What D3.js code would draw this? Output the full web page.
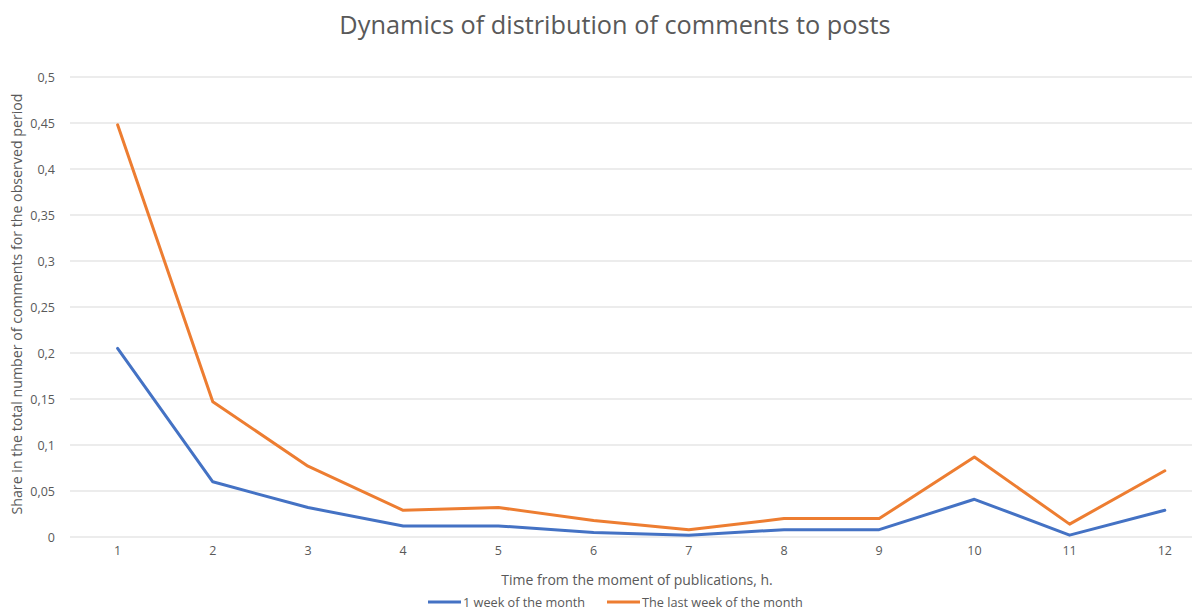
<!DOCTYPE html>
<html>
<head>
<meta charset="utf-8">
<script src="https://cdn.jsdelivr.net/npm/d3@7"></script>
<style>
  body { margin: 0; background: #fff; }
  text { font-family: "Open Sans", "Noto Sans", sans-serif; fill: #595959; }
</style>
</head>
<body>
<svg id="chart" width="1192" height="610"></svg>
<script>
// chart data
let hours = [1, 2, 3, 4, 5, 6, 7, 8, 9, 10, 11, 12];
let firstWeek = [0.205, 0.06, 0.032, 0.012, 0.012, 0.005, 0.002, 0.008, 0.008, 0.041, 0.002, 0.029];
let lastWeek = [0.448, 0.147, 0.077, 0.029, 0.032, 0.018, 0.008, 0.02, 0.02, 0.087, 0.014, 0.072];
let yTicks = [0, 0.05, 0.1, 0.15, 0.2, 0.25, 0.3, 0.35, 0.4, 0.45, 0.5];
let seriesNames = ['1 week of the month', 'The last week of the month'];
let seriesColors = ['#4472C4', '#ED7D31'];

let svg = d3.select('#chart');
let margins = {left: 70, top: 77, bottom: 537};

// x is a band scale, points sit in the middle of each band
let xScale = d3.scaleBand()
    .domain(hours)
    .range([margins.left, margins.left + 95.2 * hours.length]);
let yScale = d3.scaleLinear()
    .domain([0, 0.5])
    .range([margins.bottom, margins.top]);

let fmt = d => String(+d.toFixed(2)).replace('.', ',');

// gridlines
svg.append('g')
    .selectAll('line')
    .data(yTicks)
    .enter()
        .append('line')
        .attr('x1', xScale.range()[0])
        .attr('x2', xScale.range()[1])
        .attr('y1', d => yScale(d))
        .attr('y2', d => yScale(d))
        .attr('stroke', '#d9d9d9')
        .attr('stroke-width', 1);

// y axis labels
let yAxis = svg.append('g')
    .attr('transform', 'translate(' + (margins.left - 12) + ',0)')
    .call(d3.axisLeft(yScale).tickValues(yTicks).tickFormat(fmt).tickSize(0));
yAxis.select('.domain').remove();
yAxis.selectAll('text')
    .style('font-size', '12.5px')
    .attr('fill', '#595959');

// x axis labels
let xAxis = svg.append('g')
    .attr('transform', 'translate(0,' + (margins.bottom + 6) + ')')
    .call(d3.axisBottom(xScale).tickSize(0));
xAxis.select('.domain').remove();
xAxis.selectAll('text')
    .style('font-size', '12.5px')
    .attr('fill', '#595959');

// the lines
let line = d3.line()
    .x((d, i) => xScale(hours[i]) + xScale.bandwidth() / 2)
    .y(d => yScale(d));

[firstWeek, lastWeek].forEach(function(values, k) {
    svg.append('path')
        .datum(values)
        .attr('d', line)
        .attr('fill', 'none')
        .attr('stroke', seriesColors[k])
        .attr('stroke-width', 3)
        .attr('stroke-linejoin', 'round')
        .attr('stroke-linecap', 'round');
});

// title
svg.append('text')
    .attr('x', 615)
    .attr('y', 34)
    .style('text-anchor', 'middle')
    .style('font-size', '25.3px')
    .text('Dynamics of distribution of comments to posts');

// axis titles
svg.append('text')
    .attr('transform', 'translate(22,304) rotate(-90)')
    .style('text-anchor', 'middle')
    .style('font-size', '14.2px')
    .text('Share in the total number of comments for the observed period');
svg.append('text')
    .attr('x', 637)
    .attr('y', 585)
    .style('text-anchor', 'middle')
    .style('font-size', '14px')
    .text('Time from the moment of publications, h.');

// legend
let legendX = [428, 607];
let legend = svg.append('g');
seriesNames.forEach(function(name, k) {
    legend.append('line')
        .attr('x1', legendX[k])
        .attr('x2', legendX[k] + 33)
        .attr('y1', 602)
        .attr('y2', 602)
        .attr('stroke', seriesColors[k])
        .attr('stroke-width', 3);
    legend.append('text')
        .attr('x', legendX[k] + 35)
        .attr('y', 606.5)
        .style('font-size', '12.7px')
        .text(name);
});
</script>
</body>
</html>
